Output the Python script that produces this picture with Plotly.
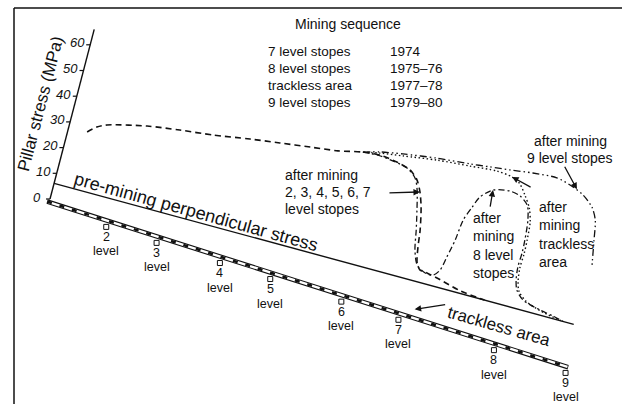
import numpy as np
import plotly.graph_objects as go

# ---------------- data (distance along section 0-100, pillar stress in MPa) ----------------
stress_ticks = [0, 10, 20, 30, 40, 50, 60]
stress_axis_top = 66

level_names = ["2", "3", "4", "5", "6", "7", "8", "9"]
level_pos = [11.3, 21.0, 33.2, 42.9, 56.6, 67.6, 86.0, 99.8]

reef_d = [-0.4, 100.0]

premining_d = [0.0, 99.0]
premining_s = [6.1, 14.8]

# common upper part of the stress profiles
shared_d = [3.5, 5.0, 6.7, 13.9, 19.9, 26.0, 32.8, 38.3, 43.9, 49.0, 53.5]
shared_s = [28.3, 31.2, 33.1, 37.3, 39.6, 41.6, 44.4, 46.4, 48.4, 50.2, 52.6]

# after mining 2-7 level stopes
a_d = [56.7, 60.0, 62.7, 64.4, 65.5, 66.4, 67.3, 67.7, 68.3, 69.1, 70.5, 73.1, 77.2, 82.0]
a_s = [53.5, 52.9, 51.6, 48.8, 44.8, 39.5, 31.1, 24.8, 18.9, 16.8, 16.5, 15.6, 13.9, 13.3]

# after mining 8 level stopes
b_d = [53.5, 56.5, 62.1, 64.0, 64.9, 65.8, 66.6, 67.3, 68.4, 70.2, 71.7, 72.7, 73.3, 74.0, 74.5,
       75.5, 76.4, 78.4, 81.5, 83.5, 85.2, 86.0, 86.4, 86.5, 86.4, 86.7, 87.3, 88.9, 92.3, 94.9, 97.0]
b_s = [52.6, 53.2, 51.9, 49.2, 45.2, 38.0, 30.7, 23.4, 18.2, 16.3, 16.4, 19.0, 24.5, 31.5, 39.6,
       45.3, 49.8, 53.8, 55.4, 54.8, 52.3, 47.1, 39.5, 34.5, 29.0, 24.1, 20.6, 17.7, 16.1, 15.4, 14.6]

# after mining trackless area
c_d = [53.5, 56.6, 60.8, 67.1, 73.2, 78.2, 81.2, 82.9, 84.3, 85.7, 86.5, 86.8, 86.9, 86.8, 87.1,
       87.7, 89.4, 93.0, 97.0]
c_s = [52.6, 54.2, 55.8, 58.2, 59.8, 61.1, 60.7, 59.1, 55.7, 51.5, 46.6, 39.8, 34.4, 28.9, 24.0,
       20.5, 17.7, 15.6, 14.6]

# after mining 9 level stopes
d_d = [53.5, 56.5, 60.7, 67.0, 73.1, 76.8, 80.5, 84.7, 89.2, 92.5, 94.7, 96.8, 98.0, 98.7, 99.6]
d_s = [52.6, 54.6, 56.5, 58.9, 60.6, 61.8, 63.0, 64.5, 65.5, 64.1, 62.3, 59.0, 54.7, 47.4, 37.1]

seq_items = ["7 level stopes", "8 level stopes", "trackless area", "9 level stopes"]
seq_years = ["1974", "1975\u201376", "1977\u201378", "1979\u201380"]

# ---------------- oblique projection of the section ----------------
ORIGIN = (50.0, 199.0)
U = (5.19, 1.65)     # pixels per distance unit along the reef
V = (0.67, -2.57)    # pixels per MPa along the stress axis


def to_px(d, s):
    d = np.asarray(d, float)
    s = np.asarray(s, float)
    return ORIGIN[0] + d * U[0] + s * V[0], ORIGIN[1] + d * U[1] + s * V[1]


FONT = "Liberation Sans, Arial, Helvetica, sans-serif"
INK = "#111111"

fig = go.Figure()


def add_line(d, s, dash="solid", width=1.4, shape="spline"):
    x, y = to_px(d, s)
    fig.add_trace(go.Scatter(x=x, y=y, mode="lines",
                             line=dict(color=INK, width=width, dash=dash, shape=shape, smoothing=0.8),
                             hoverinfo="skip", showlegend=False))


# stress axis
add_line([0, 0], [0, stress_axis_top], width=1.4, shape="linear")
tx, ty = to_px([0] * len(stress_ticks), stress_ticks)
segx, segy = [], []
for x, y in zip(tx, ty):
    segx += [x - 4, x, None]
    segy += [y, y, None]
fig.add_trace(go.Scatter(x=segx, y=segy, mode="lines", line=dict(color=INK, width=1.2),
                         hoverinfo="skip", showlegend=False))

# reef (rail)
add_line(reef_d, [-0.6, -0.6], width=1.1, shape="linear")
add_line(reef_d, [-1.9, -1.9], width=1.1, shape="linear")
add_line(reef_d, [-1.25, -1.25], dash="5px,8px", width=2.6, shape="linear")

# pre-mining perpendicular stress
add_line(premining_d, premining_s, width=1.4, shape="linear")

# stress profiles
add_line(shared_d + a_d, shared_s + a_s, dash="6px,4px", width=1.6)
add_line(b_d, b_s, dash="6px,3px,2px,3px", width=1.3)
add_line(c_d, c_s, dash="1.5px,2.5px", width=1.4)
add_line(d_d, d_s, dash="7px,3px,1.5px,3px,1.5px,3px", width=1.3)

# level markers
mx, my = to_px(level_pos, [-3.6] * len(level_pos))
fig.add_trace(go.Scatter(x=mx, y=my, mode="markers",
                         marker=dict(symbol="square-open", size=5, color=INK, line=dict(width=1)),
                         hoverinfo="skip", showlegend=False))

ann = []


def text(x, y, t, size=14, angle=0, xanchor="center", xshift=0, yshift=0, pad=1):
    ann.append(dict(x=x, y=y, xref="x", yref="y", text=t, showarrow=False, textangle=angle,
                    xanchor=xanchor, yanchor="middle", xshift=xshift, yshift=yshift,
                    borderpad=pad, font=dict(family=FONT, size=size, color=INK)))


for x, y, v in zip(tx, ty, stress_ticks):
    text(x, y, "<i>%d</i>" % v, size=13, xshift=-13, yshift=2)

text(40, 104, "Pillar stress (MPa)", size=17, angle=-75.4)

for x, y, name in zip(mx, my, level_names):
    text(x, y, name, size=12.5, yshift=-10, pad=0)
    text(x, y, "level", size=12.5, yshift=-24.5, pad=0)

text(196, 212, "pre-mining perpendicular stress", size=18, angle=15.5)
text(499, 326, "trackless area", size=17, angle=16)

# mining sequence block
text(348, 24, "Mining sequence", size=14)
for i, (item, yr) in enumerate(zip(seq_items, seq_years)):
    text(266, 51 + 17 * i, item, size=13.5, xanchor="left")
    text(388, 51 + 17 * i, yr, size=13.5, xanchor="left")

for i, t in enumerate(["after mining", "2, 3, 4, 5, 6, 7", "level stopes"]):
    text(283, 175 + 17 * i, t, size=14, xanchor="left")
for i, t in enumerate(["after", "mining", "8 level", "stopes"]):
    text(471, 218 + 18.3 * i, t, size=14, xanchor="left")
for i, t in enumerate(["after", "mining", "trackless", "area"]):
    text(537, 207 + 18.3 * i, t, size=14, xanchor="left")
for i, t in enumerate(["after mining", "9 level stopes"]):
    text(570, 141 + 17 * i, t, size=14)


def pointer(d, s, ax, ay):
    x, y = to_px(d, s)
    ann.append(dict(x=float(x), y=float(y), xref="x", yref="y", ax=ax, ay=ay, text="",
                    showarrow=True, arrowhead=2, arrowsize=1, arrowwidth=1.3, arrowcolor=INK))


pointer(65.5, 44.8, -32, 1)
pointer(78.4, 53.8, -3, 18)
pointer(81.2, 60.7, 20, 11)
pointer(93.3, 63.7, -13, -24)
pointer(70.0, 2.0, 32, -5)

fig.update_layout(
    width=622, height=404,
    margin=dict(l=0, r=0, t=0, b=0),
    paper_bgcolor="white", plot_bgcolor="white",
    xaxis=dict(range=[0, 622], visible=False, fixedrange=True),
    yaxis=dict(range=[404, 0], visible=False, fixedrange=True),
    annotations=ann,
    shapes=[
        dict(type="line", xref="x", yref="y", x0=14, y0=8, x1=622, y1=8, line=dict(color=INK, width=1.5)),
        dict(type="line", xref="x", yref="y", x0=14, y0=8, x1=14, y1=404, line=dict(color=INK, width=1.5)),
    ],
)

fig.write_html("out.html", config={"displayModeBar": False},
               post_script="document.body.style.margin='0';document.body.style.overflow='hidden';")
